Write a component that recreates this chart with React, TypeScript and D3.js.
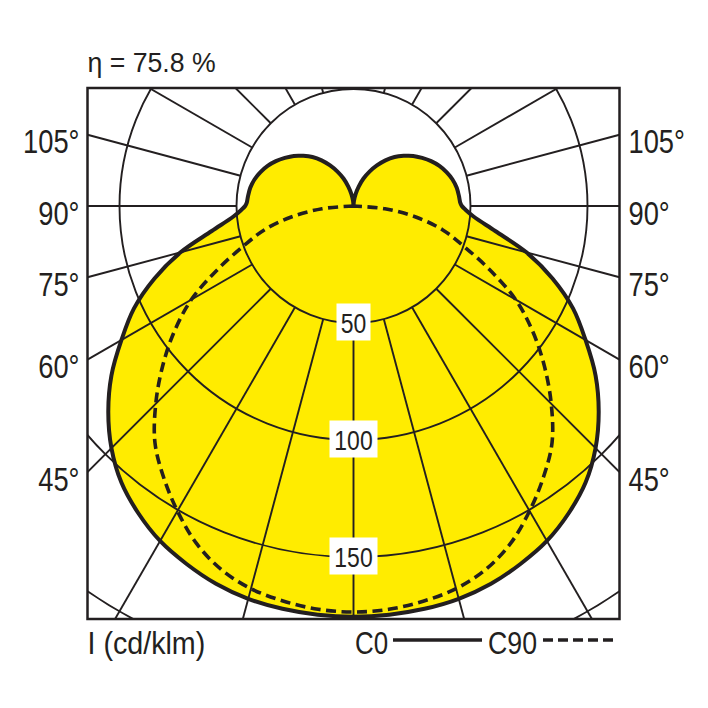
import React from 'react';
import * as d3 from 'd3';

// polar angles (deg from nadir) and intensities in cd/klm
const C0_ANGLES = [0, 5, 10, 15, 20, 25, 30, 35, 40, 45, 50, 55, 60, 65, 70, 75, 80, 85, 88, 90, 92, 95,
  100, 105, 110, 115, 120, 125, 130, 135, 140, 145, 150, 155, 160, 165, 170, 175, 180];
const C0_VALUES = [175.5, 175.3, 174.8, 173.8, 171.8, 168.8, 165.3, 160.3, 154.3, 146.3, 136.8, 126.3,
  114.5, 103.5, 90.5, 76.5, 61.5, 51.5, 48, 46.3, 45.6, 45.3, 44.8, 43.8, 42.3, 40.5, 38.3, 35.8, 33.3,
  30.3, 27.3, 23.8, 20, 16.2, 12.5, 8.6, 5.2, 2.2, 0];

const C90_ANGLES = [0, 5, 10, 15, 20, 25, 30, 35, 40, 45, 50, 55, 60, 65, 70, 75, 80, 85, 90];
const C90_VALUES = [173.5, 173, 171.5, 169.3, 165.3, 159, 150.5, 141.5, 132, 119.5, 106.5, 93.5, 80,
  64, 50, 39.5, 27, 13.5, 0];

const RINGS = [50, 100, 150, 200];
const RING_LABELS = [50, 100, 150];
const SIDE_LABELS = [45, 60, 75, 90, 105];
const GRID_STEP = 15;

const W = 708;
const H = 708;
const cx = 353.5;
const cy = 206;
const frame = { x0: 87.5, x1: 619.5, y0: 88, y1: 619 };

const YELLOW = '#ffec00';
const INK = '#231f20';
const FONT = '"Liberation Sans", Arial, "Noto Sans", sans-serif';

const r = d3.scaleLinear().domain([0, 200]).range([0, 468]);

const rad = (deg: number) => (deg * Math.PI) / 180;

// exit distance of a ray from the centre to the frame
const exitDist = (dx: number, dy: number) => {
  const tx = dx > 1e-9 ? (frame.x1 - cx) / dx : dx < -1e-9 ? (frame.x0 - cx) / dx : Infinity;
  const ty = dy > 1e-9 ? (frame.y1 - cy) / dy : dy < -1e-9 ? (frame.y0 - cy) / dy : Infinity;
  return Math.min(tx, ty);
};

type P = { a: number; v: number };

// signed angle: right side positive. lineRadial angle is clockwise from 12 o'clock
const mirror = (angles: number[], values: number[]): P[] => {
  const left = angles.map((a, i) => ({ a: -a, v: values[i] })).reverse();
  const right = angles.slice(1).map((a, i) => ({ a, v: values[i + 1] }));
  return [...left, ...right];
};

const radial = d3.lineRadial<P>()
  .angle(d => Math.PI - rad(d.a))
  .radius(d => r(d.v))
  .curve(d3.curveCatmullRom.alpha(0.5));

// condensed-looking text: regular sans squeezed horizontally
const Txt = ({ x, y, size, sx, anchor = 'start', children }: {
  x: number; y: number; size: number; sx: number; anchor?: string; children: React.ReactNode;
}) => (
  <text transform={`translate(${x},${y}) scale(${sx},1)`} fontSize={size} textAnchor={anchor} fill={INK}>
    {children}
  </text>
);

export default function App() {
  const c0 = mirror(C0_ANGLES, C0_VALUES);
  const c90 = mirror(C90_ANGLES, C90_VALUES);

  // radial grid lines, every 15° on both sides, from the 50 ring out to the frame
  const spokes: { x1: number; y1: number; x2: number; y2: number }[] = [];
  for (let deg = -180 + GRID_STEP; deg < 180; deg += GRID_STEP) {
    const dx = Math.sin(rad(deg));
    const dy = Math.cos(rad(deg));
    const t = exitDist(dx, dy);
    const t0 = r(50);
    if (t <= t0) continue;
    spokes.push({ x1: cx + dx * t0, y1: cy + dy * t0, x2: cx + dx * t, y2: cy + dy * t });
  }

  const sideY = (deg: number) => cy + ((frame.x1 - cx) * Math.cos(rad(deg))) / Math.sin(rad(deg));

  return (
    <svg width={W} height={H} style={{ position: 'absolute', left: 0, top: 0, background: '#fff' }}
      fontFamily={FONT}>
      <defs>
        <clipPath id="frame-clip">
          <rect x={frame.x0} y={frame.y0} width={frame.x1 - frame.x0} height={frame.y1 - frame.y0} />
        </clipPath>
      </defs>

      <g transform={`translate(${cx},${cy})`}>
        <path d={radial(c0) || ''} fill={YELLOW} stroke="none" />
      </g>

      <g clipPath="url(#frame-clip)" stroke={INK} strokeWidth={1.9} fill="none">
        {RINGS.map(v => (
          <circle key={v} cx={cx} cy={cy} r={r(v)} />
        ))}
        {spokes.map((s, i) => (
          <line key={i} {...s} />
        ))}
      </g>

      <rect x={frame.x0} y={frame.y0} width={frame.x1 - frame.x0} height={frame.y1 - frame.y0}
        fill="none" stroke={INK} strokeWidth={2.5} />

      <g transform={`translate(${cx},${cy})`} fill="none" stroke={INK} strokeLinejoin="round">
        <path d={radial(c0) || ''} strokeWidth={4} />
        <path d={radial(c90) || ''} strokeWidth={3.6} strokeDasharray="10 5.5" />
      </g>

      {RING_LABELS.map(v => {
        const label = String(v);
        const bw = label.length * 14 + 6;
        const bh = 37;
        return (
          <g key={v}>
            <rect x={cx - bw / 2} y={cy + r(v) - bh / 2 - 1} width={bw} height={bh} fill="#fff" />
            <Txt x={cx} y={cy + r(v) + 10} size={28} sx={0.82} anchor="middle">{label}</Txt>
          </g>
        );
      })}

      {SIDE_LABELS.map(deg => (
        <g key={deg}>
          <Txt x={frame.x0 - 8} y={sideY(deg) + 18.5} size={32.5} sx={0.84} anchor="end">{`${deg}°`}</Txt>
          <Txt x={frame.x1 + 9} y={sideY(deg) + 18.5} size={32.5} sx={0.84}>{`${deg}°`}</Txt>
        </g>
      ))}

      <Txt x={frame.x0} y={72} size={27.5} sx={0.97}>η = 75.8 %</Txt>

      <Txt x={frame.x0} y={654} size={30.5} sx={0.94}>I (cd/klm)</Txt>
      <Txt x={355} y={654} size={32} sx={0.81}>C0</Txt>
      <line x1={393} x2={482} y1={640} y2={640} stroke={INK} strokeWidth={3.6} />
      <Txt x={488} y={654} size={32} sx={0.835}>C90</Txt>
      <line x1={543} x2={617} y1={640} y2={640} stroke={INK} strokeWidth={3.6} strokeDasharray="10 5" />
    </svg>
  );
}
